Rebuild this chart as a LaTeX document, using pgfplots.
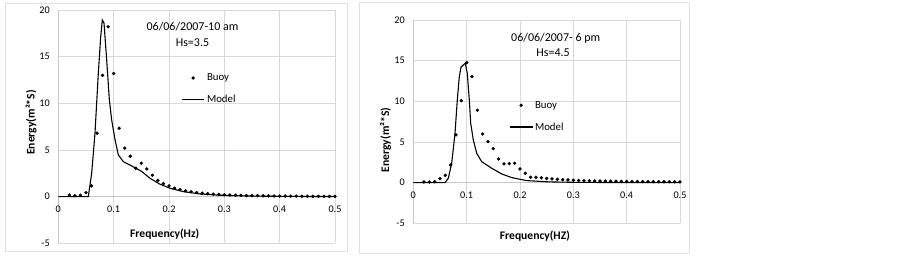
\documentclass[border=0pt]{standalone}
\usepackage{pgfplots}
\pgfplotsset{compat=1.18}
\usepackage{fontspec}
\setmainfont{Carlito}
\newcommand\fs{\fontsize{10.2}{12}\selectfont}
\newcommand\fl{\fontsize{10.8}{12}\selectfont}
\newcommand\ft{\fontsize{12}{14}\selectfont}
\newcommand\fa{\fontsize{11.6}{14}\selectfont\bfseries}
\pgfplotsset{
  panel/.style={
    scale only axis,
    xmin=0,xmax=0.5,ymin=-5,ymax=20,
    xtick={0,0.1,0.2,0.3,0.4,0.5},
    ytick={-5,0,5,10,15,20},
    grid=major,
    major grid style={black!15,line width=0.7pt},
    axis x line*=middle,
    axis y line*=left,
    hide obscured x ticks=false,
    hide obscured y ticks=false,
    axis line style={black!22,line width=0.8pt},
    major tick length=0pt,
    tick label style={font=\fs},
    /pgf/number format/assume math mode=true,
    xticklabel style={yshift=-6pt},
    yticklabel style={xshift=-5pt},
    legend cell align=left,
    clip=false,
  },
  buoy/.style={only marks,mark=*,mark size=1.5pt,black,
    legend image code/.code={\draw[##1] plot coordinates {(0.4cm,0cm)};}},
  model/.style={black,line width=1.1pt,no marks,
    legend image code/.code={\draw[##1] (0cm,0cm) -- (0.8cm,0cm);}},
}
\begin{document}
\begin{tikzpicture}
\path[use as bounding box,fill=white] (0,0) rectangle (903pt,255pt);
\draw[black!12,line width=0.8pt] (5.7pt,3.5pt) rectangle (347.3pt,251.7pt);
\draw[black!12,line width=0.8pt] (359pt,2pt) rectangle (689.3pt,253pt);
% ---------- panel 1
\begin{axis}[panel,
  at={(58.3pt,11.7pt)},anchor=south west,
  width=276.7pt,height=233.3pt,
  xlabel={Frequency(Hz)},
  ylabel={Energy(m²*S)},
  xlabel style={at={(axis description cs:0.3845,0.04)},anchor=center,font=\fa},
  ylabel style={at={(axis description cs:-0.0987,0.518)},anchor=center,rotate=0,font=\fa},
  legend style={at={(axis cs:0.2217,13.4)},anchor=north west,draw=none,fill=none,
    font=\fl,row sep=9pt,inner sep=0pt},
]
\addplot[buoy] coordinates {
(0.02,0.18)(0.03,0.1)(0.04,0.15)(0.05,0.43)(0.06,1.15)(0.07,6.8)(0.08,13.0)(0.09,18.2)
(0.10,13.2)(0.11,7.33)(0.12,5.2)(0.13,4.33)(0.14,3.04)(0.15,3.58)(0.16,2.97)(0.17,2.29)
(0.18,1.75)(0.19,1.4)(0.20,1.15)(0.21,0.9)(0.22,0.75)(0.23,0.62)(0.24,0.52)(0.25,0.44)
(0.26,0.37)(0.27,0.31)(0.28,0.27)(0.29,0.23)(0.30,0.2)(0.31,0.18)(0.32,0.16)(0.33,0.14)
(0.34,0.12)(0.35,0.11)(0.36,0.1)(0.37,0.09)(0.38,0.08)(0.39,0.07)(0.40,0.06)(0.41,0.06)
(0.42,0.05)(0.43,0.05)(0.44,0.04)(0.45,0.04)(0.46,0.03)(0.47,0.03)(0.48,0.03)(0.49,0.02)(0.50,0.02)
};
\addlegendentry{Buoy}
\addplot[model] coordinates {
(0,0)(0.0542,0)(0.0603,2.5)(0.0663,6.8)(0.0723,13.2)(0.0766,17.1)(0.0795,18.93)(0.0826,18.6)
(0.0875,14.6)(0.0922,10.4)(0.0965,8.2)(0.1025,6.1)(0.1085,4.47)(0.1175,3.75)(0.1355,3.2)
(0.1507,2.7)(0.1657,1.97)(0.1838,1.33)(0.2018,0.9)(0.2259,0.54)(0.256,0.29)(0.29,0.16)
(0.33,0.08)(0.38,0.04)(0.44,0.02)(0.5,0.01)
};
\addlegendentry{Model}
\node[font=\ft] at (axis description cs:0.485,0.927) {06/06/2007-10 am};
\node[font=\ft] at (axis description cs:0.485,0.8585) {Hs=3.5};
\end{axis}
% ---------- panel 2
\begin{axis}[panel,
  at={(413.3pt,31.7pt)},anchor=south west,
  width=266.7pt,height=203.3pt,
  xlabel={Frequency(HZ)},
  ylabel={Energy(m²*S)},
  xlabel style={at={(axis description cs:0.456,-0.0625)},anchor=center,font=\fa},
  ylabel style={at={(axis description cs:-0.1035,0.41)},anchor=center,rotate=0,font=\fa},
  legend style={at={(axis cs:0.1794,10.3)},anchor=north west,draw=none,fill=none,
    font=\fl,row sep=9pt,inner sep=0pt},
]
\addplot[buoy] coordinates {
(0.02,0.08)(0.03,0.08)(0.04,0.12)(0.05,0.5)(0.06,0.9)(0.07,2.18)(0.08,5.87)(0.09,10.08)
(0.10,14.76)(0.11,13.03)(0.12,8.9)(0.13,5.99)(0.14,5.04)(0.15,4.18)(0.16,2.91)(0.17,2.3)
(0.18,2.34)(0.19,2.38)(0.20,1.68)(0.21,1.15)(0.22,0.66)(0.23,0.66)(0.24,0.6)(0.25,0.52)
(0.26,0.46)(0.27,0.41)(0.28,0.37)(0.29,0.33)(0.30,0.3)(0.31,0.27)(0.32,0.25)(0.33,0.23)
(0.34,0.21)(0.35,0.2)(0.36,0.19)(0.37,0.18)(0.38,0.17)(0.39,0.16)(0.40,0.15)(0.41,0.15)
(0.42,0.14)(0.43,0.13)(0.44,0.13)(0.45,0.12)(0.46,0.12)(0.47,0.11)(0.48,0.11)(0.49,0.1)(0.50,0.1)
};
\addlegendentry{Buoy}
\addplot[model] coordinates {
(0,0)(0.0594,0)(0.0656,0.54)(0.072,2.38)(0.0782,6.07)(0.0825,10.17)(0.0862,13.0)(0.0894,14.19)
(0.0937,14.47)(0.0975,14.68)(0.1012,13.45)(0.105,10.17)(0.1076,7.3)(0.1125,5.25)(0.1189,3.61)
(0.1282,2.58)(0.147,1.77)(0.1657,1.07)(0.1845,0.62)(0.2126,0.25)(0.256,0.09)(0.3,0.04)
(0.38,0.01)(0.5,0)
};
\addlegendentry{Model}
\node[font=\ft] at (axis description cs:0.534,0.911) {06/06/2007- 6 pm};
\node[font=\ft] at (axis description cs:0.524,0.838) {Hs=4.5};
\end{axis}
\end{tikzpicture}
\end{document}
